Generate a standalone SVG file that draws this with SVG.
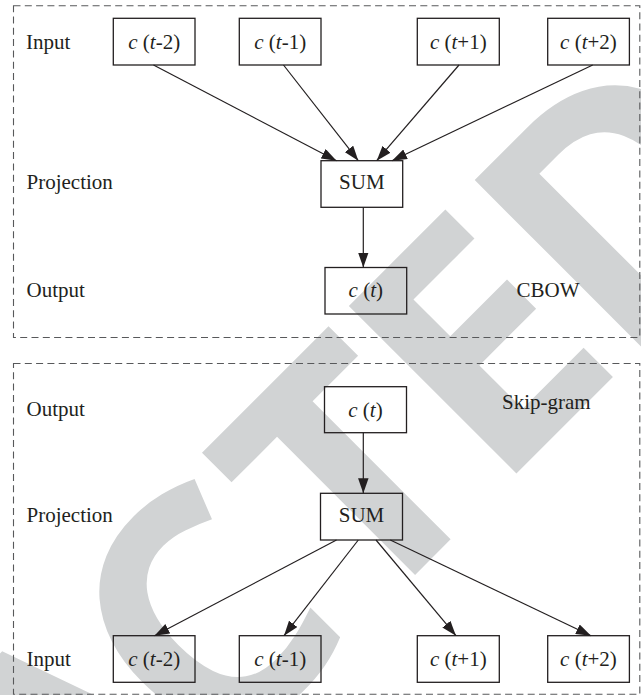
<svg xmlns="http://www.w3.org/2000/svg" width="641" height="695" viewBox="0 0 641 695">
<defs>
<style>
.frame{fill:none;stroke:#58595b;stroke-width:1.1;stroke-dasharray:7 4.3}
.box{fill:none;stroke:#231f20;stroke-width:1.3}
.lbl{font-family:"Liberation Serif","Times New Roman",serif;font-size:21px;fill:#231f20}
.ctr{text-anchor:middle}
.it{font-style:italic}
.edge{stroke:#231f20;stroke-width:1.2;fill:none;marker-end:url(#ah)}
.wm{font-family:"Open Sans",sans-serif;font-weight:700;font-size:332px;fill:#d1d3d4}
</style>
<marker id="ah" viewBox="0 0 15 10.5" refX="15" refY="5.25" markerWidth="15" markerHeight="10.5" markerUnits="userSpaceOnUse" orient="auto">
<path d="M0,0 L15,5.25 L0,10.5 z" fill="#231f20"/>
</marker>
</defs>
<rect width="641" height="695" fill="#ffffff"/>
<g id="watermark" transform="rotate(-45)">
<text class="wm" x="-1420 -1205 -1020 -825 -604 -401 -184 0.5 178.5" y="700">RETRACTED</text>
</g>
<rect class="frame" x="13.5" y="5.7" width="626.3" height="331.8"/>
<rect class="frame" x="13.5" y="363.5" width="626.3" height="330.8"/>
<g id="labels-top">
<text class="lbl" x="26" y="48.5">Input</text>
<text class="lbl" x="26.5" y="188.5">Projection</text>
<text class="lbl" x="26.5" y="296.8">Output</text>
<text class="lbl" x="516.5" y="296.5">CBOW</text>
</g>
<g id="labels-bottom">
<text class="lbl" x="26.5" y="416">Output</text>
<text class="lbl" x="26.5" y="521.5">Projection</text>
<text class="lbl" x="26.5" y="665.5">Input</text>
<text class="lbl" x="502" y="409">Skip-gram</text>
</g>
<g id="cbow-in-t-2"><rect class="box" x="113.3" y="18.3" width="81.7" height="46.7"/><text class="lbl ctr" x="154.2" y="48.5"><tspan class="it">c</tspan> (<tspan class="it">t</tspan>-2)</text></g>
<g id="cbow-in-t-1"><rect class="box" x="239.3" y="18.3" width="81.7" height="46.7"/><text class="lbl ctr" x="280.2" y="48.5"><tspan class="it">c</tspan> (<tspan class="it">t</tspan>-1)</text></g>
<g id="cbow-in-t+1"><rect class="box" x="417.3" y="18.3" width="82" height="46.7"/><text class="lbl ctr" x="458.3" y="48.5"><tspan class="it">c</tspan> (<tspan class="it">t</tspan>+1)</text></g>
<g id="cbow-in-t+2"><rect class="box" x="547.7" y="18.3" width="81.7" height="46.7"/><text class="lbl ctr" x="588.5" y="48.5"><tspan class="it">c</tspan> (<tspan class="it">t</tspan>+2)</text></g>
<g id="cbow-sum"><rect class="box" x="321" y="160.7" width="81.7" height="46.6"/><text class="lbl ctr" x="361.8" y="188.5">SUM</text></g>
<g id="cbow-out"><rect class="box" x="325" y="267.5" width="81.7" height="46.5"/><text class="lbl ctr" x="365.8" y="297"><tspan class="it">c</tspan> (<tspan class="it">t</tspan>)</text></g>
<g id="sg-out"><rect class="box" x="324.5" y="386.7" width="82" height="46"/><text class="lbl ctr" x="365.5" y="417"><tspan class="it">c</tspan> (<tspan class="it">t</tspan>)</text></g>
<g id="sg-sum"><rect class="box" x="320.5" y="493.3" width="82" height="46.7"/><text class="lbl ctr" x="361.5" y="521.5">SUM</text></g>
<g id="sg-in-t-2"><rect class="box" x="113.3" y="635.7" width="81.7" height="46.6"/><text class="lbl ctr" x="154.2" y="665.5"><tspan class="it">c</tspan> (<tspan class="it">t</tspan>-2)</text></g>
<g id="sg-in-t-1"><rect class="box" x="239.3" y="635.7" width="81.7" height="46.6"/><text class="lbl ctr" x="280.2" y="665.5"><tspan class="it">c</tspan> (<tspan class="it">t</tspan>-1)</text></g>
<g id="sg-in-t+1"><rect class="box" x="417.3" y="635.7" width="82" height="46.6"/><text class="lbl ctr" x="458.3" y="665.5"><tspan class="it">c</tspan> (<tspan class="it">t</tspan>+1)</text></g>
<g id="sg-in-t+2"><rect class="box" x="547.7" y="635.7" width="81.7" height="46.6"/><text class="lbl ctr" x="588.5" y="665.5"><tspan class="it">c</tspan> (<tspan class="it">t</tspan>+2)</text></g>
<g id="connectors">
<line class="edge" x1="153.5" y1="65" x2="336.5" y2="160.7"/>
<line class="edge" x1="283.5" y1="65" x2="358.3" y2="160.7"/>
<line class="edge" x1="459" y1="65" x2="376.7" y2="160.7"/>
<line class="edge" x1="592.7" y1="65" x2="392" y2="160.7"/>
<line class="edge" x1="363.3" y1="207.3" x2="363.3" y2="267.5"/>
<line class="edge" x1="363.3" y1="432.7" x2="363.3" y2="493.3"/>
<line class="edge" x1="336.5" y1="540" x2="154.5" y2="635.7"/>
<line class="edge" x1="358.3" y1="540" x2="284" y2="635.7"/>
<line class="edge" x1="376" y1="540" x2="456" y2="635.7"/>
<line class="edge" x1="390.3" y1="540" x2="591" y2="635.7"/>
</g>
</svg>
